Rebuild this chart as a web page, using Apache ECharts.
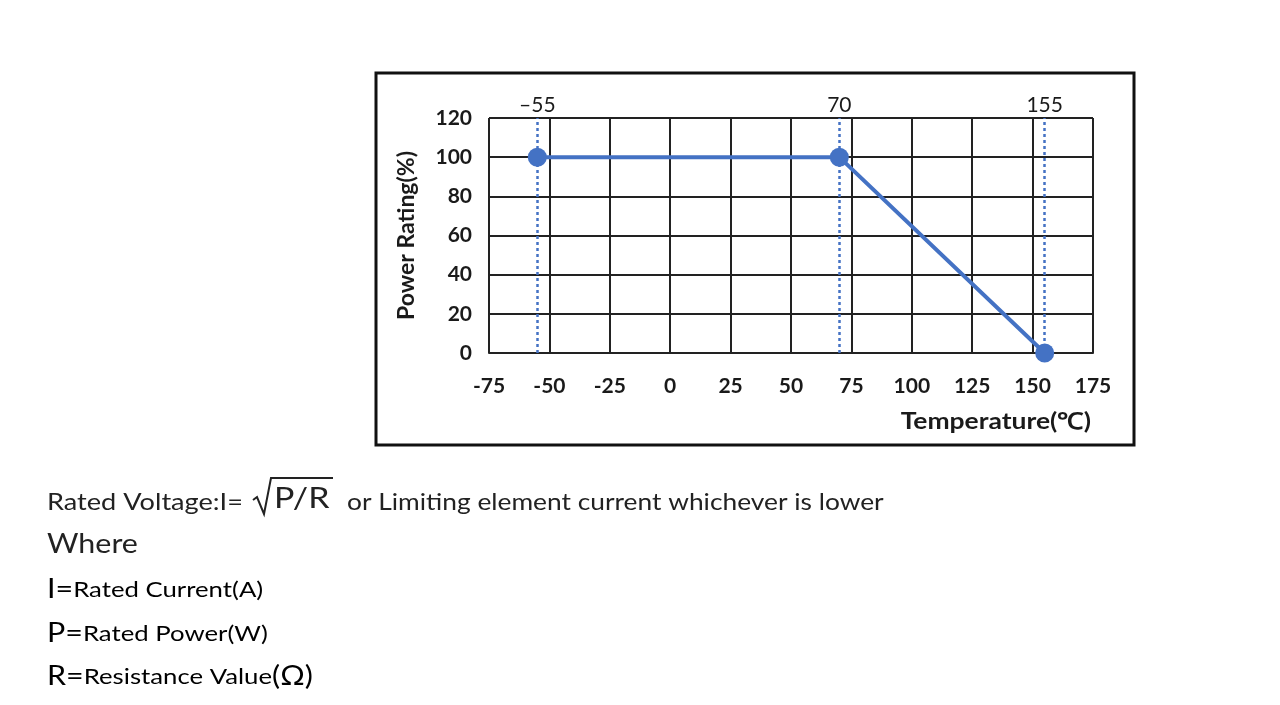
<!DOCTYPE html>
<html>
<head>
<meta charset="utf-8">
<script src="https://cdn.jsdelivr.net/npm/echarts@6/dist/echarts.min.js"></script>
<style>
html,body{margin:0;padding:0;background:#fff;}
#main{width:1280px;height:705px;}
</style>
</head>
<body>
<div id="main"></div>
<script>
// ---- data ----
var temperatures = [-55, 70, 155];
var powerRatings = [100, 100, 0];
var markerTemps = [-55, 70, 155];
var xAxisName = 'Temperature(℃)';
var yAxisName = 'Power Rating(%)';
var xMin = -75, xMax = 175, xStep = 25;
var yMin = 0, yMax = 120, yStep = 20;

var FONT = 'Lato, "Open Sans", sans-serif';
var blue = '#4472C4';
var ink = '#1a1a1a';
var txt = '#222222';
var SX = 1.17;

var chart = echarts.init(document.getElementById('main'));

function label(x, y, text, font, sx) {
  return { type: 'text', x: x, y: y, scaleX: sx || SX, silent: true,
    style: { text: text, font: font, fill: txt, align: 'left', verticalAlign: 'middle',
             textAlign: 'left', textVerticalAlign: 'middle' } };
}
var defRich = { a: { fontSize: 26, fontFamily: FONT, color: txt }, b: { fontSize: 22, fontFamily: FONT, color: txt } };

var option = {
  backgroundColor: '#fff',
  animation: false,
  textStyle: { fontFamily: FONT },
  grid: { left: 489, right: 187, top: 118, bottom: 352, containLabel: false },
  xAxis: {
    type: 'value',
    min: xMin, max: xMax, interval: xStep,
    axisLine: { show: true, lineStyle: { color: '#222', width: 2 } },
    axisTick: { show: false },
    splitLine: { show: true, lineStyle: { color: '#222', width: 2 } },
    axisLabel: { margin: 23, fontSize: 21, fontWeight: 'bold', color: ink, fontFamily: FONT }
  },
  yAxis: {
    type: 'value',
    min: yMin, max: yMax, interval: yStep,
    name: yAxisName,
    nameLocation: 'middle',
    nameGap: 71,
    nameRotate: 90,
    nameTextStyle: { fontSize: 23, fontWeight: 'bold', color: ink, fontFamily: FONT },
    axisLine: { show: true, lineStyle: { color: '#222', width: 2 } },
    axisTick: { show: false },
    splitLine: { show: true, lineStyle: { color: '#222', width: 2 } },
    axisLabel: { margin: 17, fontSize: 21, fontWeight: 'bold', color: ink, fontFamily: FONT }
  },
  series: [{
    type: 'line',
    data: temperatures.map(function (t, i) { return [t, powerRatings[i]]; }),
    symbol: 'circle',
    symbolSize: 19,
    lineStyle: { color: blue, width: 4 },
    itemStyle: { color: blue },
    z: 5,
    markLine: {
      silent: true,
      symbol: ['none', 'none'],
      lineStyle: { color: blue, type: [3, 3], width: 2.5 },
      label: {
        show: true,
        position: 'end',
        distance: 2,
        fontSize: 21,
        color: ink,
        fontFamily: FONT,
        formatter: function (p) { return p.value < 0 ? '–' + Math.abs(p.value) : String(p.value); }
      },
      data: markerTemps.map(function (t) { return { xAxis: t }; })
    }
  }],
  graphic: [
    { type: 'rect', shape: { x: 376, y: 73, width: 758, height: 372 },
      style: { fill: 'none', stroke: '#111', lineWidth: 3 }, silent: true },
    { type: 'text', x: 1091, y: 422, scaleX: 1.15, silent: true,
      style: { text: xAxisName, font: 'bold 23px ' + FONT, fill: ink, align: 'right', verticalAlign: 'middle',
               textAlign: 'right', textVerticalAlign: 'middle' } },
    // formula line
    label(47, 503, 'Rated Voltage:I=', '23px ' + FONT, 1.18),
    { type: 'polyline', silent: true,
      shape: { points: [[253, 500], [257, 497], [264, 514], [271, 478], [333, 478]] },
      style: { stroke: txt, fill: 'none', lineWidth: 2 } },
    label(274, 499, 'P/R', '29px ' + FONT),
    label(347, 503, 'or Limiting element current whichever is lower', '23px ' + FONT, 1.145),
    label(47, 545, 'Where', '26px ' + FONT),
    { type: 'text', x: 47, y: 590, scaleX: SX, silent: true,
      style: { rich: defRich, text: '{a|I=}{b|Rated Current(A)}', align: 'left', verticalAlign: 'middle',
               textAlign: 'left', textVerticalAlign: 'middle' } },
    { type: 'text', x: 47, y: 634, scaleX: SX, silent: true,
      style: { rich: defRich, text: '{a|P=}{b|Rated Power(W)}', align: 'left', verticalAlign: 'middle',
               textAlign: 'left', textVerticalAlign: 'middle' } },
    { type: 'text', x: 47, y: 677, scaleX: SX, silent: true,
      style: { rich: defRich, text: '{a|R=}{b|Resistance Value}{a|(Ω)}', align: 'left', verticalAlign: 'middle',
               textAlign: 'left', textVerticalAlign: 'middle' } }
  ]
};
chart.setOption(option);
</script>
</body>
</html>
